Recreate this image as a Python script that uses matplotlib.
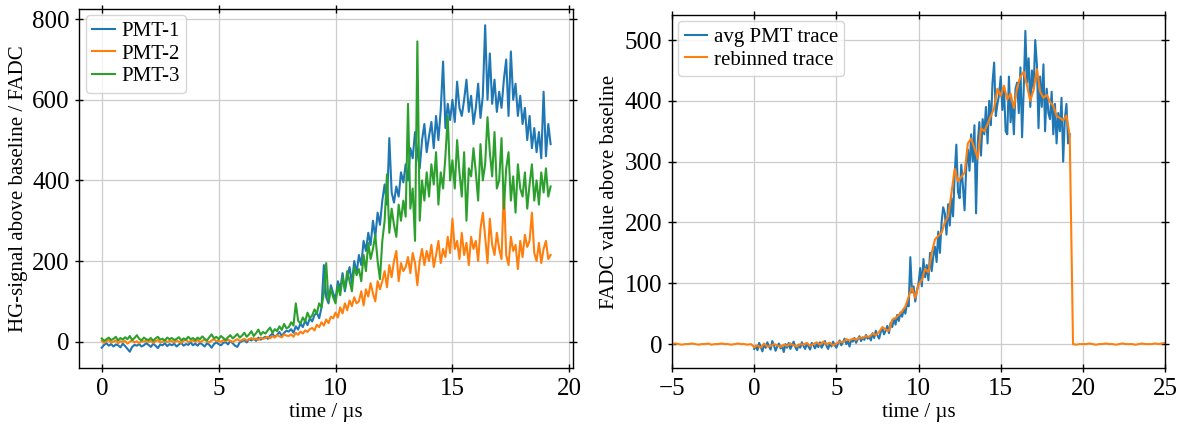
import matplotlib
matplotlib.use("Agg")
import matplotlib.pyplot as plt
import numpy as np

plt.rcParams['font.family'] = ['Liberation Serif', 'DejaVu Serif']

# sampling grid of the PMT traces (0.1 us steps, 0 .. 19.2 us)
t_trace = np.round(np.arange(0, 19.25, 0.1), 2)

pmt1 = [-15, -8, -4, -10, -6, -12, -7, -9, -14, -5,
        -11, -18, -25, -13, -8, -10, -6, -12, -9, -4,
        -8, -13, -5, -10, -16, -7, -9, -4, -11, -6,
        -9, -5, -12, -7, -3, -10, -6, -8, -2, -9,
        -5, -10, -3, -7, -12, -4, -8, -15, -6, -2,
        -6, -9, -3, -1, -7, 2, -4, -10, -13, -2,
        1, 4, -2, 6, 3, 8, 2, 10, 5, 9,
        12, 7, 15, 20, 11, 17, 24, 14, 22, 27,
        25, 31, 22, 38, 30, 45, 36, 52, 41, 58,
        50, 66, 72, 58, 85, 190, 110, 95, 140, 120,
        105, 150, 130, 170, 125, 160, 185, 145, 200, 170,
        215, 190, 250, 225, 270, 240, 300, 260, 320, 290,
        350, 390, 340, 505, 370, 345, 385, 360, 420, 395,
        440, 400, 480, 455, 520, 470, 430, 500, 540, 470,
        510, 545, 480, 560, 500, 575, 695, 530, 590, 550,
        600, 545, 645, 580, 560, 600, 650, 570, 610, 540,
        580, 640, 555, 610, 785, 600, 715, 590, 650, 570,
        620, 580, 650, 700, 560, 720, 600, 640, 560, 610,
        540, 580, 500, 560, 480, 530, 470, 520, 455, 620,
        460, 540, 490]

pmt2 = [2, -3, 1, 4, -2, 0, 3, -4, 1, -1,
        2, -5, 0, 3, -2, 1, -4, 2, 0, 3,
        -1, 2, -3, 1, 4, -2, 0, 3, -1, 2,
        1, -2, 3, 0, -3, 2, 5, -1, 1, 3,
        0, 4, -1, 2, 5, 1, -2, 3, 6, 1,
        2, -1, 4, 1, 5, 2, -1, 3, 6, 2,
        4, 7, 3, 6, 9, 5, 8, 4, 10, 7,
        9, 12, 8, 14, 10, 16, 13, 11, 18, 15,
        14, 18, 12, 22, 17, 25, 20, 28, 24, 31,
        34, 28, 42, 36, 48, 40, 55, 46, 62, 58,
        72, 60, 85, 70, 95, 78, 102, 88, 110, 95,
        100, 125, 90, 130, 112, 145, 120, 100, 150, 130,
        150, 175, 135, 190, 160, 200, 225, 150, 195, 175,
        185, 210, 170, 220, 195, 140, 200, 230, 190, 225,
        200, 240, 185, 215, 250, 195, 230, 210, 260, 220,
        305, 230, 250, 205, 270, 215, 245, 190, 260, 230,
        250, 200, 280, 320, 260, 195, 305, 240, 215, 270,
        230, 205, 385, 215, 190, 260, 225, 240, 180, 250,
        210, 265, 235, 250, 320, 220, 200, 245, 195, 230,
        250, 205, 215]

pmt3 = [8, 2, 6, 10, 4, 7, 12, 3, 9, 5,
        11, 6, 14, 4, 9, 16, 7, 3, 10, 6,
        4, 9, 2, 8, 12, 5, 7, 3, 10, 6,
        9, 4, 7, 11, 3, 8, 5, 12, 6, 9,
        4, 10, 6, 13, 7, 3, 11, 18, 8, 12,
        6, 14, 9, 4, 11, 16, 8, 13, 19, 10,
        15, 22, 12, 18, 26, 14, 21, 30, 17, 24,
        20, 28, 35, 22, 31, 26, 38, 29, 44, 33,
        36, 48, 40, 95, 52, 45, 60, 50, 72, 58,
        65, 80, 70, 95, 85, 120, 195, 100, 130, 110,
        95, 140, 115, 160, 130, 175, 150, 125, 185, 165,
        180, 150, 215, 175, 245, 205, 230, 265, 200, 155,
        250, 300, 415, 270, 330, 290, 260, 340, 300, 350,
        310, 590, 330, 380, 250, 745, 300, 400, 350, 420,
        360, 440, 390, 470, 340, 420, 380, 460, 560, 400,
        450, 380, 500, 420, 360, 470, 300, 430, 410, 480,
        420, 350, 490, 400, 440, 557, 470, 410, 520, 380,
        400, 505, 330, 430, 470, 350, 410, 320, 440, 380,
        360, 420, 330, 390, 440, 350, 400, 340, 420, 370,
        430, 360, 385]

avg_trace = [-8, -3, -10, 2, -5, -12, 0, -6, 3, -4,
             -9, 5, -2, -11, -4, 1, -7, -3, -13, 0,
             -6, 2, -8, -2, 4, -5, -10, -1, -6, 3,
             -3, -8, 1, -4, -9, 2, -2, -7, 0, -5,
             3, -6, -1, 5, -3, -8, 2, -4, 4, -2,
             -6, 1, 6, -2, 3, 9, 0, 5, -4, 7,
             4, 10, 2, 8, 13, 5, 11, 7, 15, 9,
             12, 6, 18, 10, 22, 14, 9, 20, 26, 16,
             22, 30, 18, 35, 28, 42, 32, 48, 38, 52,
             45, 58, 50, 68, 62, 143, 85, 95, 70, 88,
             100, 125, 95, 140, 110, 130, 105, 150, 120, 145,
             160, 135, 185, 150, 200, 225, 215, 180, 230, 195,
             240, 210, 280, 328, 250, 240, 295, 260, 220, 290,
             320, 285, 345, 300, 360, 215, 330, 365, 310, 370,
             345, 390, 330, 400, 360, 430, 463, 375, 395, 410,
             440, 385, 420, 350, 345, 440, 365, 400, 345, 420,
             430, 380, 455, 340, 420, 515, 430, 470, 390, 450,
             420, 500, 460, 355, 440, 390, 460, 350, 420, 380,
             370, 415, 345, 395, 330, 380, 350, 405, 300, 370,
             395, 330, 345]

# rebinned trace on a 0.2 us grid from -5 to 25 us
t_rebin = np.round(np.arange(-5, 25.01, 0.2), 2)
rebinned = [0, 1, 0, -1, 0, 0, 1, 0, -1, 0, 0, 1, -1, 0, 0, 1, 0, 0, -1, 0, 1, 0, 0, -1, 0,
            -5, -2, -6, 1, -4, -3, 0, -2, -5, -1, -3, 1, -2, -4, 0, -1, 2, -3, 0, 3, -1, 4, 0, 2, -2,
            1, 4, 3, 8, 6, 9, 7, 11, 10, 13, 12, 17, 15, 20, 28, 24, 22, 40, 43, 48, 54, 62, 78, 93, 76,
            98, 105, 124, 118, 150, 172, 178, 183, 200, 210, 248, 288, 268, 275, 282, 330, 338, 322, 305, 355,
            350, 362, 375, 388, 420,
            408, 425, 402, 412, 388, 422, 440, 448, 425, 400, 418, 452, 415, 405, 410, 398, 392, 375, 372, 368,
            376, 342, 0, -1, 0,
            0, 0, 1, 0, -1, 0, 0, 1, 0, 0, -1, 0, 1, 0, 0, 0, -1, 0, 1, 0, 0, 0, 1, 0, 1, 2]

blue = '#1f77b4'
orange = '#ff7f0e'
green = '#2ca02c'

fig = plt.figure(figsize=(11.84, 4.25), dpi=100)
ax1 = fig.add_axes([0.067, 0.134, 0.417, 0.845])
ax2 = fig.add_axes([0.5676, 0.134, 0.4164, 0.831])

ax1.plot(t_trace, pmt1, color=blue, lw=1.5, label='PMT-1')
ax1.plot(t_trace, pmt2, color=orange, lw=1.5, label='PMT-2')
ax1.plot(t_trace, pmt3, color=green, lw=1.5, label='PMT-3')
ax1.set_xticks([0, 5, 10, 15, 20])
ax1.set_yticks([0, 200, 400, 600, 800])
ax1.set_xlabel('time / µs', fontsize=15, labelpad=2)
ax1.set_ylabel('HG-signal above baseline / FADC', fontsize=15, labelpad=3)

ax2.plot(t_trace, avg_trace, color=blue, lw=1.5, label='avg PMT trace')
ax2.plot(t_rebin, rebinned, color=orange, lw=1.5, label='rebinned trace')
ax2.set_xlim(-5, 25)
ax2.set_xticks([-5, 0, 5, 10, 15, 20, 25])
ax2.set_xticklabels(['\u22125', '0', '5', '10', '15', '20', '25'])
ax2.set_yticks([0, 100, 200, 300, 400, 500])
ax2.set_xlabel('time / µs', fontsize=15, labelpad=2)
ax2.set_ylabel('FADC value above baseline', fontsize=15, labelpad=4)

for ax in (ax1, ax2):
    ax.grid(True, color='#cccccc', lw=0.9)
    ax.set_axisbelow(True)
    ax.tick_params(direction='inout', top=True, right=True, length=6, width=1,
                   labelsize=18, pad=4)
    for s in ax.spines.values():
        s.set_linewidth(1.0)
    ax.legend(loc='upper left', fontsize=15, handlelength=1.1, handletextpad=0.3,
              borderpad=0.3, labelspacing=0.15, borderaxespad=0.3, edgecolor='#cccccc')

fig.savefig('out.png', dpi=100)
